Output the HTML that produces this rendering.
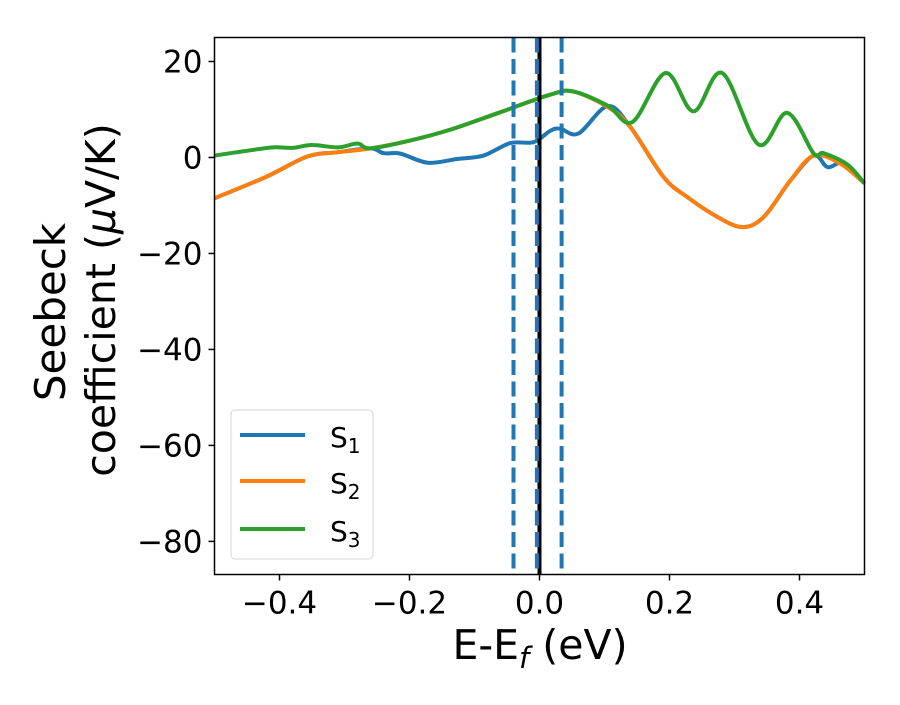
<!DOCTYPE html>
<html><head><meta charset="utf-8"><style>
body{margin:0;background:#fff}
svg text{font-family:"DejaVu Sans","Liberation Sans",sans-serif;fill:#000}
</style></head><body>
<svg id="chart" width="900" height="700" xmlns="http://www.w3.org/2000/svg">
<rect width="900" height="700" fill="#fff"/>
<g id="marks"></g>
<rect x="214.5" y="37.5" width="650" height="537" fill="none" stroke="#000" stroke-width="1.5"/>
<g id="axes"></g>
<text x="540" y="659" font-size="41" text-anchor="middle">E-E<tspan font-style="italic" font-size="29" dy="9">f</tspan><tspan dy="-9"> (eV)</tspan></text>
<text transform="translate(65,312) rotate(-90)" font-size="42" text-anchor="middle">Seebeck</text>
<text transform="translate(115,300) rotate(-90)" font-size="41" text-anchor="middle">coefficient  (<tspan font-style="italic">μ</tspan>V/K)</text>
<g>
<rect x="231" y="410" width="142" height="149" rx="4" fill="#fff" fill-opacity="0.8" stroke="#d6d6d6" stroke-width="1"/>
<line x1="240" y1="435" x2="305" y2="435" stroke="#1f77b4" stroke-width="4"/>
<text x="330" y="447" font-size="28">S<tspan font-size="20" dy="6">1</tspan></text>
<line x1="240" y1="481" x2="305" y2="481" stroke="#ff7f0e" stroke-width="4"/>
<text x="330" y="493" font-size="28">S<tspan font-size="20" dy="6">2</tspan></text>
<line x1="240" y1="529" x2="305" y2="529" stroke="#2ca02c" stroke-width="4"/>
<text x="330" y="541" font-size="28">S<tspan font-size="20" dy="6">3</tspan></text>
</g>
</svg>
<script>
const xTicks=[-0.4,-0.2,0.0,0.2,0.4];
const xTickLabels=["−0.4","−0.2","0.0","0.2","0.4"];
const yTicks=[20,0,-20,-40,-60,-80];
const yTickLabels=["20","0","−20","−40","−60","−80"];
const dashedLines=[-0.04,-0.004,0.034];
const fermiLine=[0];
const s1X=[-0.5,-0.42,-0.357,-0.31,-0.26,-0.24,-0.214,-0.172,-0.126,-0.086,-0.045,-0.009,0.017,0.032,0.06,0.105,0.14,0.191,0.228,0.274,0.312,0.345,0.386,0.422,0.443,0.468,0.5];
const s1Y=[-8.5,-4.0,0.2,1.1,1.9,0.9,0.8,-1.1,-0.3,0.4,3.0,3.2,5.6,6.0,5.0,10.7,6.3,-4.1,-8.3,-12.4,-14.5,-12.4,-4.8,0.4,-2.0,-1.2,-5.4];
const s2X=[-0.5,-0.42,-0.357,-0.31,-0.26,-0.2,-0.137,-0.065,0.017,0.052,0.105,0.14,0.191,0.228,0.274,0.312,0.345,0.386,0.422,0.463,0.5];
const s2Y=[-8.5,-4.0,0.2,1.1,1.9,3.5,5.8,9.2,13.1,13.75,10.5,6.3,-4.1,-8.3,-12.4,-14.5,-12.4,-4.8,0.4,-1.3,-5.4];
const s3X=[-0.5,-0.455,-0.41,-0.38,-0.35,-0.31,-0.28,-0.26,-0.2,-0.137,-0.065,0.017,0.052,0.105,0.143,0.194,0.237,0.281,0.337,0.381,0.422,0.437,0.474,0.5];
const s3Y=[0.4,1.3,2.1,2.0,2.6,2.1,2.9,1.9,3.5,5.8,9.2,13.1,13.75,10.8,7.4,17.6,9.6,17.6,2.7,9.3,0.8,0.9,-1.5,-5.4];

const NS="http://www.w3.org/2000/svg";
const X0=214.5,X1=864.5,Y0=37.5,Y1=574.5;
const xMin=-0.5,xMax=0.5,yMin=-86.9,yMax=25;
function sx(v){return X0+(v-xMin)/(xMax-xMin)*(X1-X0);}
function sy(v){return Y1-(v-yMin)/(yMax-yMin)*(Y1-Y0);}
function el(t,a,p){const e=document.createElementNS(NS,t);for(const k in a)e.setAttribute(k,a[k]);p.appendChild(e);return e;}
const marks=document.getElementById('marks'),axes=document.getElementById('axes');
function smooth(xs,ys){const p=xs.map((x,i)=>[sx(x),sy(ys[i])]);let d=`M${p[0][0]},${p[0][1]}`;
for(let i=0;i<p.length-1;i++){const a=p[Math.max(0,i-1)],b=p[i],c=p[i+1],e=p[Math.min(p.length-1,i+2)];
d+=` C${b[0]+(c[0]-a[0])/6},${b[1]+(c[1]-a[1])/6} ${c[0]-(e[0]-b[0])/6},${c[1]-(e[1]-b[1])/6} ${c[0]},${c[1]}`;}return d;}
[[s1X,s1Y,'#1f77b4','series-s1'],[s2X,s2Y,'#ff7f0e','series-s2'],[s3X,s3Y,'#2ca02c','series-s3']].forEach(s=>{
const p=el('path',{d:smooth(s[0],s[1]),fill:'none',stroke:s[2],'stroke-width':4,'stroke-linejoin':'round'},marks);

});
fermiLine.forEach(v=>{const l=el('line',{x1:sx(v),x2:sx(v),y1:Y0,y2:Y1,stroke:'#000','stroke-width':4},marks);

});
dashedLines.forEach(v=>{const l=el('line',{x1:sx(v),x2:sx(v),y1:Y0,y2:Y1,stroke:'#1f77b4','stroke-width':4,'stroke-dasharray':'15,6.5'},marks);

});
xTicks.forEach((v,i)=>{const x=sx(v);
const t=el('line',{x1:x,x2:x,y1:Y1,y2:Y1+6,stroke:'#000','stroke-width':1.5},axes);


const tx=el('text',{x:x,y:Y1+39,'font-size':31,'text-anchor':'middle'},axes);tx.textContent=xTickLabels[i];

});
yTicks.forEach((v,i)=>{const y=sy(v);
const t=el('line',{x1:X0-6,x2:X0,y1:y,y2:y,stroke:'#000','stroke-width':1.5},axes);


const tx=el('text',{x:X0-12,y:y+11,'font-size':31,'text-anchor':'end'},axes);tx.textContent=yTickLabels[i];

});
</script>
</body></html>
